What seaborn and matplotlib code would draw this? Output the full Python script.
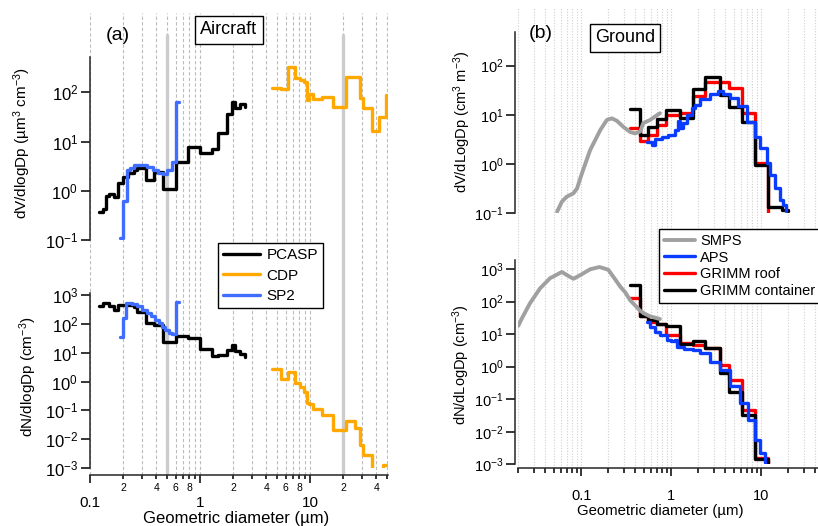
import numpy as np
import matplotlib
matplotlib.use("Agg")
import matplotlib.pyplot as plt
import matplotlib.ticker as mticker
import seaborn as sns

# ---------------- data: panel (a) Aircraft ----------------
# step series: value holds from the given diameter to the next one
pcasp_edges = [0.12, 0.13, 0.14, 0.15, 0.165, 0.18, 0.2, 0.22, 0.25, 0.27, 0.32, 0.38,
               0.46, 0.6, 0.78, 1.0, 1.28, 1.47, 1.75, 1.94, 2.1, 2.3, 2.55]
pcasp_dv = [0.37, 0.42, 0.78, 0.86, 0.75, 1.46, 1.9, 2.3, 2.6, 2.85, 1.65, 2.4,
            1.08, 3.9, 7.6, 5.8, 7.2, 14.7, 36, 64, 47, 58, 50]
pcasp_dn = [415, 540, 540, 400, 300, 450, 450, 450, 380, 250, 105, 92,
            24, 37, 32, 13, 7.8, 8.5, 12.6, 18.7, 11, 9.3, 6.9]

sp2_dv_d = [0.188, 0.2, 0.218, 0.23, 0.25, 0.28, 0.33, 0.376, 0.418, 0.46, 0.5, 0.553, 0.61, 0.65]
sp2_dv = [0.108, 0.62, 2.6, 2.9, 3.3, 3.4, 3.1, 2.6, 2.3, 2.15, 2.6, 3.9, 63, 63]
sp2_dn_d = [0.188, 0.2, 0.213, 0.24, 0.27, 0.3, 0.33, 0.36, 0.39, 0.42, 0.45, 0.48, 0.52, 0.56, 0.61, 0.65]
sp2_dn = [36, 156, 520, 480, 400, 300, 230, 180, 140, 110, 80, 62, 48, 44, 590, 590]

cdp_edges = [4.5, 5.5, 6.3, 7.3, 8.1, 8.8, 9.3, 9.8, 10.7, 12.8, 16.3, 21.2, 25.5, 28.5,
             30.6, 36.4, 42.7, 46.5, 49]
cdp_dv = [121, 115, 330, 193, 175, 165, 70, 91, 72, 79, 51, 202, 202, 75,
          47, 16, 32, 32, 88]
cdp_dn = [2.75, 1.2, 2.2, 0.88, 0.62, 0.45, 0.18, 0.16, 0.11, 0.071, 0.021, 0.042, 0.025, 0.0065,
          0.0029, 1e-4, 1e-4, 0.0013, 0.0013]

aircraft_cut_diameters = [0.5, 20]

# ---------------- data: panel (b) Ground ----------------
smps_dv_d = [0.054, 0.061, 0.069, 0.082, 0.09, 0.102, 0.126, 0.163, 0.193, 0.219, 0.249,
             0.295, 0.35, 0.398, 0.453, 0.49, 0.584, 0.66, 0.75]
smps_dv = [0.108, 0.172, 0.217, 0.255, 0.32, 0.65, 1.94, 4.9, 7.9, 8.5, 7.6,
           5.7, 4.5, 4.2, 4.6, 6.8, 7.9, 9.2, 10.8]
smps_dn_d = [0.02, 0.022, 0.027, 0.035, 0.045, 0.061, 0.07, 0.082, 0.097, 0.126, 0.16,
             0.2, 0.239, 0.271, 0.31, 0.35, 0.4, 0.453, 0.51, 0.584, 0.72, 0.75]
smps_dn = [18, 31, 89, 256, 518, 810, 640, 500, 640, 980, 1150,
           950, 480, 290, 190, 110, 75, 52, 42, 35, 30, 29]

aps_dv_d = [0.54, 0.61, 0.66, 0.79, 0.93, 1.1, 1.2, 1.24, 1.35, 1.5, 1.7, 1.85, 2.07, 2.7,
            3.3, 3.8, 4.5, 5.6, 6.9, 8.6, 9.8, 11.5, 12.6, 14.3, 16.3, 17.6, 19.1]
aps_dv = [2.85, 2.45, 3.2, 3.6, 3.9, 5.0, 7.5, 5.3, 7.0, 10, 13.5, 16, 21, 27,
          31, 27, 22, 15, 7.3, 3.6, 2.1, 1.04, 0.6, 0.32, 0.19, 0.15, 0.11]
aps_dn_d = [0.54, 0.58, 0.66, 0.75, 0.9, 1.0, 1.1, 1.16, 1.4, 1.76, 2.07, 2.69, 3.5, 4.5,
            5.9, 7.2, 8.6, 9.8, 11.1]
aps_dn = [24, 17, 12, 9.4, 6.6, 6.0, 6.5, 4.0, 3.6, 3.3, 2.6, 1.4, 0.79, 0.26,
          0.075, 0.023, 0.0056, 0.0022, 0.0011]

grimm_edges = [0.35, 0.45, 0.56, 0.7, 0.88, 1.26, 1.77, 2.4, 3.5, 4.4, 6.1, 8.6, 12, 17, 20]
roof_dv = [5.3, 3.0, 3.9, 6.2, 10, 11, 24, 47, 47, 35, 10.8, 1.04, 0.107]
roof_dn = [126, 35, 24, 21, 9.5, 5.5, 4.7, 3.7, 1.1, 0.4, 0.047, 0.0016, 0.0011]
cont_dv = [13, 3.9, 5.7, 8.3, 12.6, 8.6, 34, 58, 25, 14.7, 7.3, 0.95, 0.135, 0.115, 0.11]
cont_dn = [323, 35, 27, 21, 17.5, 5.0, 6.0, 3.8, 0.65, 0.17, 0.033, 0.0015, 0.0011]

# ---------------- style ----------------
sns.set_style("ticks")
plt.rcParams.update({
    "font.family": ["Liberation Sans", "DejaVu Sans"],
    "mathtext.fontset": "custom",
    "mathtext.rm": "Liberation Sans",
    "mathtext.it": "Liberation Sans:italic",
    "mathtext.bf": "Liberation Sans:bold",
    "axes.linewidth": 1.1,
    "text.color": "black",
    "axes.labelcolor": "black",
    "xtick.color": "black",
    "ytick.color": "black",
})

W, H = 818, 526
fig = plt.figure(figsize=(W / 100, H / 100), dpi=100)
fig.patch.set_facecolor("white")


def rect(x0, y0, x1, y1):
    return [x0 / W, 1 - y1 / H, (x1 - x0) / W, (y1 - y0) / H]


def draw(ax, x, y, color, lw=2.4, steps=True, label=None, z=2):
    kw = {"drawstyle": "steps-post"} if steps else {}
    sns.lineplot(x=x, y=y, ax=ax, color=color, lw=lw, estimator=None, sort=False,
                 legend=False, label=label, zorder=z, **kw)


def major_fmt(v, pos):
    return f"{v:g}"


def minor_fmt_a(v, pos):
    m = int(round(v / 10 ** np.floor(np.log10(v) + 1e-9)))
    return str(m) if m in (2, 4, 6, 8) else ""


def make_bg(r, xlim, label_minor, gridstyle):
    bg = fig.add_axes(r)
    bg.set_facecolor("none")
    bg.set_xscale("log")
    bg.set_xlim(*xlim)
    bg.set_yticks([])
    for s in ("left", "top", "right"):
        bg.spines[s].set_visible(False)
    bg.xaxis.set_major_locator(mticker.LogLocator(base=10, numticks=20))
    bg.xaxis.set_minor_locator(mticker.LogLocator(base=10, subs=np.arange(2, 10), numticks=20))
    bg.xaxis.set_major_formatter(mticker.FuncFormatter(major_fmt))
    if label_minor:
        bg.xaxis.set_minor_formatter(mticker.FuncFormatter(minor_fmt_a))
    else:
        bg.xaxis.set_minor_formatter(mticker.NullFormatter())
    bg.grid(True, axis="x", which="both", **gridstyle)
    bg.set_axisbelow(True)
    return bg


def make_data_ax(r, xlim, ylim, offset=0):
    ax = fig.add_axes(r)
    ax.set_facecolor("none")
    ax.set_xscale("log")
    ax.set_yscale("log")
    for s in ("bottom", "top", "right"):
        ax.spines[s].set_visible(False)
    if offset:
        ax.spines["left"].set_position(("outward", offset))
    ax.tick_params(axis="x", which="both", bottom=False, labelbottom=False)
    ax.set_xlim(*xlim)
    ax.set_ylim(*ylim)
    return ax


def finish_y(ax, xlim, ylim, labsize):
    ax.set_xlim(*xlim)
    ax.set_ylim(*ylim)
    ax.set_xlabel("")
    ax.set_ylabel("")
    ax.yaxis.set_major_locator(mticker.LogLocator(base=10, numticks=20))
    ax.yaxis.set_minor_locator(mticker.NullLocator())
    ax.yaxis.set_major_formatter(mticker.LogFormatterSciNotation())
    ax.tick_params(axis="y", which="major", length=6.5, width=1.1, direction="out",
                   labelsize=labsize, pad=2)


# ---------------- panel (a) ----------------
xlim_a = (0.1, 51.2)
bg_a = make_bg(rect(90, 13, 388, 475), xlim_a, True,
               dict(color="#bcbcbc", lw=0.8, ls=(0, (3, 2))))
bg_a.tick_params(axis="x", which="major", length=5.5, width=1.1, direction="out",
                 labelsize=11, pad=9.5)
bg_a.tick_params(axis="x", which="minor", length=3, width=1.1, direction="out",
                 labelsize=7.5, pad=2.5)
for d in aircraft_cut_diameters:
    bg_a.axvline(d, ymin=0, ymax=(475 - 35) / (475 - 13), color="#cccccc", lw=2.4, zorder=1)

ylim_at = (0.1, 521)
ylim_al = (1e-3, 1174)
ax_at = make_data_ax(rect(90, 57, 388, 240), xlim_a, ylim_at)
ax_al = make_data_ax(rect(90, 293, 388, 468), xlim_a, ylim_al)

draw(ax_at, pcasp_edges, pcasp_dv, "black", label="PCASP", z=3)
draw(ax_at, cdp_edges, cdp_dv, "#FFA800", label="CDP", z=3)
draw(ax_at, sp2_dv_d, sp2_dv, "#3F6DFF", label="SP2", z=4)
draw(ax_al, pcasp_edges, pcasp_dn, "black", z=3)
draw(ax_al, cdp_edges, cdp_dn, "#FFA800", z=3)
draw(ax_al, sp2_dn_d, sp2_dn, "#3F6DFF", z=4)
finish_y(ax_at, xlim_a, ylim_at, 12)
finish_y(ax_al, xlim_a, ylim_al, 12)

# ---------------- panel (b) ----------------
xlim_b = (0.02, 45)
x0b, x1b = 518.3, 819.8
bg_b = make_bg(rect(x0b, 8, x1b, 468.3), xlim_b, False,
               dict(color="#d0d0d0", lw=0.8, ls=(0, (1, 1.5))))
bg_b.tick_params(axis="x", which="major", length=6, width=1.1, direction="out",
                 labelsize=10.5, pad=9)
bg_b.tick_params(axis="x", which="minor", length=3.6, width=1.1, direction="out")

ylim_bt = (0.1, 484)
ylim_bl = (1e-3, 1888)
ax_bt = make_data_ax(rect(x0b, 32, x1b, 213.3), xlim_b, ylim_bt, offset=2.2)
ax_bl = make_data_ax(rect(x0b, 260, x1b, 464.3), xlim_b, ylim_bl, offset=2.2)

draw(ax_bt, grimm_edges[:len(roof_dv)], roof_dv, "#FF0000", label="GRIMM roof", z=2)
draw(ax_bt, grimm_edges[:len(cont_dv)], cont_dv, "black", label="GRIMM container", z=3)
draw(ax_bt, aps_dv_d, aps_dv, "#0A3CFF", steps=True, label="APS", z=4)
draw(ax_bt, smps_dv_d, smps_dv, "#A0A0A0", lw=2.8, steps=False, label="SMPS", z=5)
draw(ax_bl, grimm_edges[:len(roof_dn)], roof_dn, "#FF0000", z=2)
draw(ax_bl, grimm_edges[:len(cont_dn)], cont_dn, "black", z=3)
draw(ax_bl, aps_dn_d, aps_dn, "#0A3CFF", steps=True, z=4)
draw(ax_bl, smps_dn_d, smps_dn, "#A0A0A0", lw=2.8, steps=False, z=5)
finish_y(ax_bt, xlim_b, ylim_bt, 10.5)
finish_y(ax_bl, xlim_b, ylim_bl, 10.5)

# ---------------- labels & annotations ----------------
def ftext(x, y, s, **kw):
    return fig.text(x / W, 1 - y / H, s, **kw)


ftext(22, 143, "dV/dlogDp (µm$^{3}$ cm$^{-3}$)", rotation=90, ha="center", va="center", fontsize=11)
ftext(28, 377, "dN/dlogDp (cm$^{-3}$)", rotation=90, ha="center", va="center", fontsize=11)
ftext(462, 122, "dV/dLogDp (cm$^{3}$ m$^{-3}$)", rotation=90, ha="center", va="center", fontsize=10.5)
ftext(461, 365, "dN/dLogDp (cm$^{-3}$)", rotation=90, ha="center", va="center", fontsize=10.5)

ftext(236, 519, "Geometric diameter (µm)", ha="center", va="center", fontsize=12)
ftext(660, 511, "Geometric diameter (µm)", ha="center", va="center", fontsize=10.7)

ftext(118, 35, "(a)", ha="center", va="center", fontsize=14)
ftext(541, 34, "(b)", ha="center", va="center", fontsize=14)
box = dict(boxstyle="square,pad=0.28", facecolor="white", edgecolor="black", linewidth=1.0)
ftext(229, 30, "Aircraft", ha="center", va="center", fontsize=13, bbox=box)
ftext(625, 38, "Ground", ha="center", va="center", fontsize=13, bbox=box)


# legends
def pick(ax, order):
    h, l = ax.get_legend_handles_labels()
    d = dict(zip(l, h))
    return [d[k] for k in order], order


ha, la = pick(ax_at, ["PCASP", "CDP", "SP2"])
leg_a = fig.legend(ha, la, loc="upper left", bbox_to_anchor=(218 / W, 1 - 243 / H),
                   bbox_transform=fig.transFigure, frameon=True, fancybox=False,
                   edgecolor="black", facecolor="white", framealpha=1, fontsize=11,
                   handlelength=2.4, handletextpad=0.45, labelspacing=0.42,
                   borderpad=0.34, borderaxespad=0)
leg_a.get_frame().set_linewidth(1.0)

hb, lb = pick(ax_bt, ["SMPS", "APS", "GRIMM roof", "GRIMM container"])
leg_b = fig.legend(hb, lb, loc="upper left", bbox_to_anchor=(659 / W, 1 - 229 / H),
                   bbox_transform=fig.transFigure, frameon=True, fancybox=False,
                   edgecolor="black", facecolor="white", framealpha=1, fontsize=10.5,
                   handlelength=2.1, handletextpad=0.4, labelspacing=0.18,
                   borderpad=0.34, borderaxespad=0)
leg_b.get_frame().set_linewidth(1.0)

fig.savefig("out.png", dpi=100, facecolor="white")
